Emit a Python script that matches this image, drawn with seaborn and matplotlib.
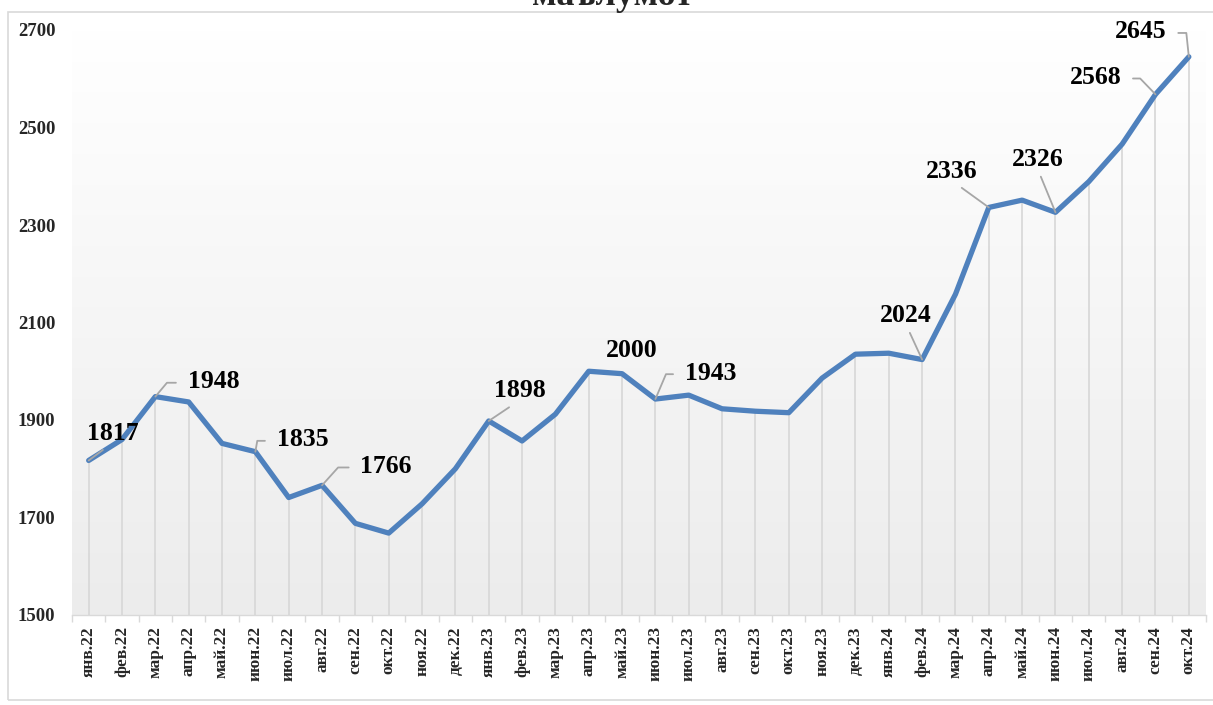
import numpy as np
import pandas as pd
import matplotlib.pyplot as plt
import matplotlib.patches as patches
from matplotlib.colors import LinearSegmentedColormap
import seaborn as sns

months = ["янв.22", "фев.22", "мар.22", "апр.22", "май.22", "июн.22", "июл.22", "авг.22",
          "сен.22", "окт.22", "ноя.22", "дек.22", "янв.23", "фев.23", "мар.23", "апр.23",
          "май.23", "июн.23", "июл.23", "авг.23", "сен.23", "окт.23", "ноя.23", "дек.23",
          "янв.24", "фев.24", "мар.24", "апр.24", "май.24", "июн.24", "июл.24", "авг.24",
          "сен.24", "окт.24"]
values = [1817, 1860, 1948, 1937, 1852, 1835, 1741, 1766, 1688, 1668, 1728, 1800,
          1898, 1857, 1912, 2000, 1995, 1943, 1951, 1923, 1918, 1915, 1986, 2035,
          2037, 2024, 2158, 2336, 2351, 2326, 2389, 2466, 2568, 2645]
labeled = [0, 2, 5, 7, 12, 15, 17, 25, 27, 29, 32, 33]
y_ticks = [1500, 1700, 1900, 2100, 2300, 2500, 2700]
title = "маълумот"

# label offsets in pixels (dx, dy up), leader style
label_pos = {
    0: (24, 27, "straight"), 2: (58, 15, 50), 5: (47, 12, 80), 7: (64, 19, 48),
    12: (31, 30, "straight"), 15: (43, 21, None), 17: (55, 26, 67),
    25: (-16, 44, "straight"), 27: (-37, 36, "straight"), 29: (-18, 53, "straight"),
    32: (-60, 17, 134), 33: (-48, 25, 96),
}

df = pd.DataFrame({"month": months, "value": values})

sns.set_theme(style="white")
plt.rcParams["font.family"] = ["Liberation Serif", "DejaVu Serif"]
plt.rcParams["font.weight"] = "bold"

fig = plt.figure(figsize=(12.13, 7.05), dpi=100)
ax = fig.add_axes([72 / 1213, 1 - 615 / 705, 1133.5 / 1213, 585 / 705])

n = len(months)
ax.set_xlim(-0.5, n - 0.5)

# gradient background, grey at the bottom fading to white at the top
cmap = LinearSegmentedColormap.from_list("bg", ["#ececec", "#ffffff"])
grad = np.linspace(0, 1, 256).reshape(-1, 1)
ax.imshow(grad, cmap=cmap, aspect="auto", extent=(-0.5, n - 0.5, 1500, 2700),
          origin="lower", zorder=0)
ax.set_ylim(1500, 2700)

ax.vlines(df.index, 1500, df["value"], color="#d9d9d9", lw=1.3, zorder=1)
sns.lineplot(data=df, x="month", y="value", sort=False, color="#4f81bd", lw=3.8,
             ax=ax, zorder=3)

for i in labeled:
    dx, dy, style = label_pos[i]
    kw = {}
    if style == "straight":
        kw["arrowprops"] = dict(arrowstyle="-", color="#a6a6a6", lw=1.3, shrinkA=2,
                                shrinkB=0, relpos=(0.5, 0.1))
    elif style is not None:
        rel = (0, 0.45) if dx > 0 else (1, 0.45)
        kw["arrowprops"] = dict(arrowstyle="-", color="#a6a6a6", lw=1.3, shrinkA=6,
                                shrinkB=0, relpos=rel,
                                connectionstyle=f"angle,angleA=0,angleB={style},rad=0")
    ax.annotate(str(values[i]), xy=(i, values[i]), xytext=(dx, dy),
                textcoords="offset pixels", ha="center", va="center",
                fontsize=18.5, fontweight="bold", color="black", zorder=4, **kw)

ax.set_yticks(y_ticks)
ax.set_yticklabels([str(t) for t in y_ticks], fontsize=13.5, fontweight="bold")
ax.set_xticks(range(n))
ax.set_xticklabels(months, rotation=90, fontsize=12.5, fontweight="bold")
ax.set_xticks(np.arange(-0.5, n), minor=True)
ax.tick_params(axis="x", which="major", length=0, pad=8)
ax.tick_params(axis="x", which="minor", length=5, color="#d9d9d9", bottom=True, width=1)
ax.tick_params(axis="y", length=0, pad=12)
ax.set_xlabel("")
ax.set_ylabel("")
for s in ["top", "right", "left"]:
    ax.spines[s].set_visible(False)
ax.spines["bottom"].set_color("#d9d9d9")
ax.spines["bottom"].set_linewidth(1)

fig.patches.append(patches.Rectangle((8 / 1213, 5 / 705), 1210 / 1213, 688 / 705,
                                     transform=fig.transFigure, fill=False,
                                     edgecolor="#d9d9d9", lw=1.2))
fig.text(0.505, 1 - 5 / 705, title, ha="center", va="baseline", fontsize=26,
         fontweight="bold")

fig.savefig("out.png", dpi=100)
